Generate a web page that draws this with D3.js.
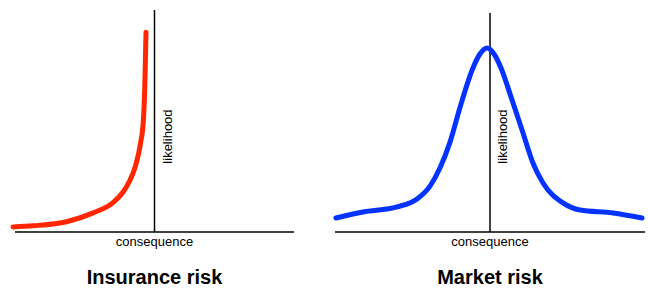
<!DOCTYPE html>
<html>
<head>
<meta charset="utf-8">
<script src="https://cdn.jsdelivr.net/npm/d3@7"></script>
<style>
  body { margin: 0; background: #fff; }
  svg { display: block; font-family: "Liberation Sans", Arial, Helvetica, sans-serif; }
</style>
</head>
<body>
<div id="chart"></div>
<script>
// consequence runs -1..1 (0 at the likelihood axis), likelihood 0..1
const insuranceConsequence = [-1.014, -0.87, -0.63, -0.44, -0.30, -0.225, -0.175, -0.135, -0.10, -0.08, -0.07, -0.065, -0.061];
const insuranceLikelihood  = [0.023, 0.028, 0.046, 0.086, 0.131, 0.18, 0.234, 0.30, 0.40, 0.50, 0.65, 0.78, 0.90];

const marketConsequence = [-0.994, -0.819, -0.600, -0.471, -0.387, -0.323, -0.258, -0.187, -0.110, -0.065, -0.019,
                           0.026, 0.071, 0.142, 0.213, 0.277, 0.342, 0.471, 0.581, 0.794, 0.981];
const marketLikelihood  = [0.063, 0.090, 0.113, 0.149, 0.207, 0.288, 0.405, 0.577, 0.739, 0.802, 0.829,
                           0.802, 0.739, 0.595, 0.446, 0.311, 0.221, 0.131, 0.099, 0.086, 0.063];

const titles = ["Insurance risk", "Market risk"];
const xLabel = "consequence";
const yLabel = "likelihood";

const width = 648;
const height = 289;

const panels = [
  { title: titles[0], xs: insuranceConsequence, ys: insuranceLikelihood, color: "#ff2600", left: 15, right: 294, axisTop: 1.0 },
  { title: titles[1], xs: marketConsequence, ys: marketLikelihood, color: "#0433ff", left: 335, right: 645, axisTop: 0.987 }
];

const svg = d3.select("#chart")
  .append("svg")
  .attr("width", width)
  .attr("height", height);

const y = d3.scaleLinear().domain([0, 1]).range([232, 10]);

panels.forEach(p => {
  const x = d3.scaleLinear().domain([-1, 1]).range([p.left, p.right]);
  const g = svg.append("g");

  // axes
  g.append("line")
    .attr("x1", x(-1)).attr("x2", x(1))
    .attr("y1", y(0)).attr("y2", y(0))
    .attr("stroke", "#000").attr("stroke-width", 1.5);
  g.append("line")
    .attr("x1", x(0)).attr("x2", x(0))
    .attr("y1", y(0)).attr("y2", y(p.axisTop))
    .attr("stroke", "#000").attr("stroke-width", 1.5);

  const line = d3.line()
    .x(d => x(d[0]))
    .y(d => y(d[1]))
    .curve(d3.curveMonotoneX);

  g.append("path")
    .datum(d3.zip(p.xs, p.ys))
    .attr("d", line)
    .attr("fill", "none")
    .attr("stroke", p.color)
    .attr("stroke-width", 5)
    .attr("stroke-linecap", "round")
    .attr("stroke-linejoin", "round");

  g.append("text")
    .attr("x", x(0))
    .attr("y", 246)
    .attr("text-anchor", "middle")
    .style("font-size", "13px")
    .text(xLabel);

  g.append("text")
    .attr("transform", `translate(${x(0) + 17},${y(0.43)}) rotate(-90)`)
    .attr("text-anchor", "middle")
    .style("font-size", "13px")
    .text(yLabel);

  g.append("text")
    .attr("x", x(0))
    .attr("y", 284)
    .attr("text-anchor", "middle")
    .style("font-size", "20px")
    .style("font-weight", "bold")
    .text(p.title);
});
</script>
</body>
</html>
